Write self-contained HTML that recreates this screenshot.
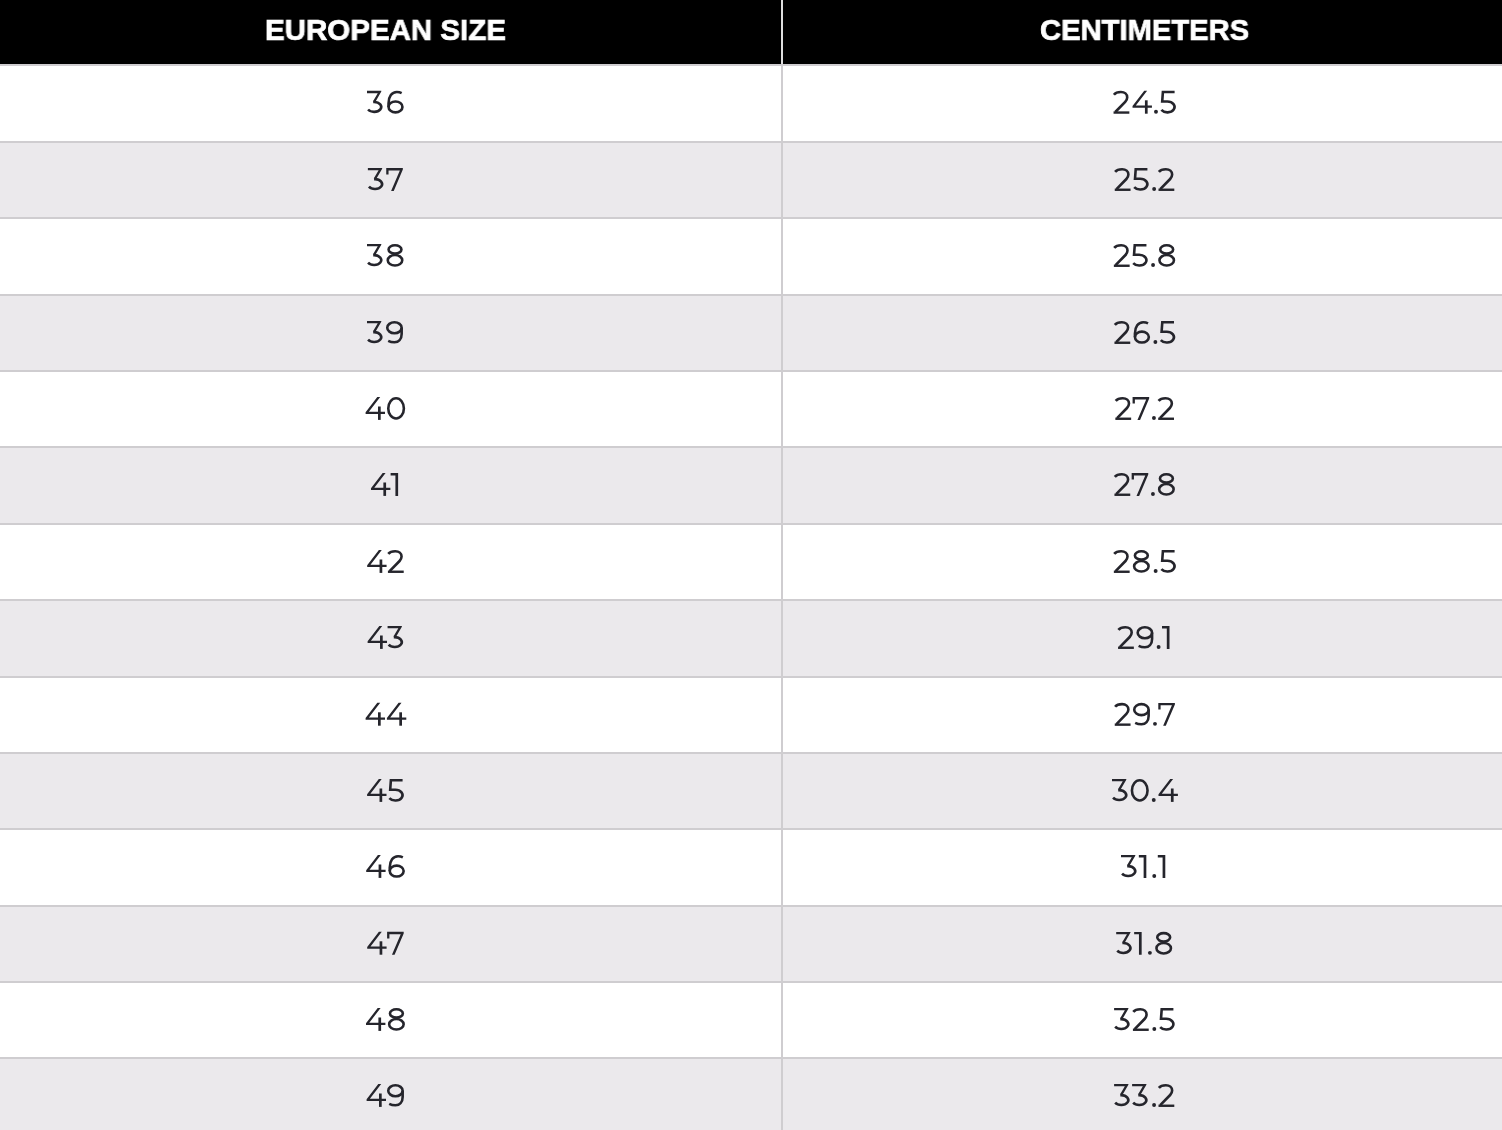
<!DOCTYPE html>
<html><head><meta charset="utf-8"><style>
html,body{margin:0;padding:0;width:1502px;height:1130px;overflow:hidden;background:#fff}
.a{position:absolute}
.h{position:absolute;font-family:"Liberation Sans",sans-serif;white-space:nowrap;line-height:40px;height:40px;color:#fff;font-weight:700;font-size:30px;transform-origin:0 0;-webkit-text-stroke:0.7px #fff;will-change:transform}
svg{position:absolute;left:0;top:0}
.t{position:absolute;width:120px;height:40px;line-height:40px;text-align:center;font-family:"Liberation Sans",sans-serif;font-size:33px;color:transparent}
</style></head><body>
<div class="a" style="left:0;top:0;width:1502px;height:64px;background:#000"></div>
<div class="a" style="left:0;top:66px;width:1502px;height:75px;background:#fff"></div>
<div class="a" style="left:0;top:143px;width:1502px;height:74px;background:#ebe9ec"></div>
<div class="a" style="left:0;top:219px;width:1502px;height:75px;background:#fff"></div>
<div class="a" style="left:0;top:296px;width:1502px;height:74px;background:#ebe9ec"></div>
<div class="a" style="left:0;top:372px;width:1502px;height:74px;background:#fff"></div>
<div class="a" style="left:0;top:448px;width:1502px;height:75px;background:#ebe9ec"></div>
<div class="a" style="left:0;top:525px;width:1502px;height:74px;background:#fff"></div>
<div class="a" style="left:0;top:601px;width:1502px;height:75px;background:#ebe9ec"></div>
<div class="a" style="left:0;top:678px;width:1502px;height:74px;background:#fff"></div>
<div class="a" style="left:0;top:754px;width:1502px;height:74px;background:#ebe9ec"></div>
<div class="a" style="left:0;top:830px;width:1502px;height:75px;background:#fff"></div>
<div class="a" style="left:0;top:907px;width:1502px;height:74px;background:#ebe9ec"></div>
<div class="a" style="left:0;top:983px;width:1502px;height:74px;background:#fff"></div>
<div class="a" style="left:0;top:1059px;width:1502px;height:71px;background:#ebe9ec"></div>
<div class="a" style="left:0;top:64px;width:1502px;height:2px;background:#cfcdd0"></div>
<div class="a" style="left:0;top:141px;width:1502px;height:2px;background:#cfcdd0"></div>
<div class="a" style="left:0;top:217px;width:1502px;height:2px;background:#cfcdd0"></div>
<div class="a" style="left:0;top:294px;width:1502px;height:2px;background:#cfcdd0"></div>
<div class="a" style="left:0;top:370px;width:1502px;height:2px;background:#cfcdd0"></div>
<div class="a" style="left:0;top:446px;width:1502px;height:2px;background:#cfcdd0"></div>
<div class="a" style="left:0;top:523px;width:1502px;height:2px;background:#cfcdd0"></div>
<div class="a" style="left:0;top:599px;width:1502px;height:2px;background:#cfcdd0"></div>
<div class="a" style="left:0;top:676px;width:1502px;height:2px;background:#cfcdd0"></div>
<div class="a" style="left:0;top:752px;width:1502px;height:2px;background:#cfcdd0"></div>
<div class="a" style="left:0;top:828px;width:1502px;height:2px;background:#cfcdd0"></div>
<div class="a" style="left:0;top:905px;width:1502px;height:2px;background:#cfcdd0"></div>
<div class="a" style="left:0;top:981px;width:1502px;height:2px;background:#cfcdd0"></div>
<div class="a" style="left:0;top:1057px;width:1502px;height:2px;background:#cfcdd0"></div>
<div class="a" style="left:781px;top:0;width:2px;height:1130px;background:#cfcdd0"></div>
<div class="a" style="left:781px;top:0;width:2px;height:64px;background:#dedede"></div>
<div class="h" style="left:264.93px;top:9.70px;transform:scaleX(0.9835)">EUROPEAN SIZE</div>
<div class="h" style="left:1040.03px;top:9.70px;transform:scaleX(0.9728)">CENTIMETERS</div>
<svg width="1502" height="1130" viewBox="0 0 1502 1130">
<g transform="translate(367.00 90.80)"><path d="M0 0H14.3V0.7L8.6 10.6H5.9L10.75 2.35H0Z" fill="#25252c"/><path d="M6.2 11.15H7.15A7.1 4.95 0 1 1 1.08 18.7" fill="none" stroke="#25252c" stroke-width="2.6" stroke-linejoin="miter" stroke-miterlimit="4"/></g><g transform="translate(387.25 90.80)"><ellipse cx="8.25" cy="16.1" rx="6.95" ry="5.45" fill="none" stroke="#25252c" stroke-width="2.6" stroke-linejoin="miter" stroke-miterlimit="4"/><path d="M14.4 2.3C13 1.6 11.4 1.25 9.6 1.25C4.6 1.25 1.3 5.6 1.3 12.5V16.1" fill="none" stroke="#25252c" stroke-width="2.6" stroke-linejoin="miter" stroke-miterlimit="4"/></g>
<g transform="translate(367.87 168.00)"><path d="M0 0H14.3V0.7L8.6 10.6H5.9L10.75 2.35H0Z" fill="#25252c"/><path d="M6.2 11.15H7.15A7.1 4.95 0 1 1 1.08 18.7" fill="none" stroke="#25252c" stroke-width="2.6" stroke-linejoin="miter" stroke-miterlimit="4"/></g><g transform="translate(386.24 168.00)"><path d="M0 0H16.6V1.6L7.5 22.9H4.85L13.6 2.4H2.3V6.6H0Z" fill="#25252c"/></g>
<g transform="translate(367.00 244.00)"><path d="M0 0H14.3V0.7L8.6 10.6H5.9L10.75 2.35H0Z" fill="#25252c"/><path d="M6.2 11.15H7.15A7.1 4.95 0 1 1 1.08 18.7" fill="none" stroke="#25252c" stroke-width="2.6" stroke-linejoin="miter" stroke-miterlimit="4"/></g><g transform="translate(386.50 244.00)"><ellipse cx="8.5" cy="5.45" rx="6.45" ry="4.2" fill="none" stroke="#25252c" stroke-width="2.6" stroke-linejoin="miter" stroke-miterlimit="4"/><ellipse cx="8.5" cy="16.3" rx="7.25" ry="5.25" fill="none" stroke="#25252c" stroke-width="2.6" stroke-linejoin="miter" stroke-miterlimit="4"/></g>
<g transform="translate(367.00 321.00)"><path d="M0 0H14.3V0.7L8.6 10.6H5.9L10.75 2.35H0Z" fill="#25252c"/><path d="M6.2 11.15H7.15A7.1 4.95 0 1 1 1.08 18.7" fill="none" stroke="#25252c" stroke-width="2.6" stroke-linejoin="miter" stroke-miterlimit="4"/></g><g transform="translate(386.00 321.00)"><ellipse cx="8.45" cy="6.75" rx="7.2" ry="5.5" fill="none" stroke="#25252c" stroke-width="2.6" stroke-linejoin="miter" stroke-miterlimit="4"/><path d="M15.65 6.75V13C15.65 18.5 12.5 21.3 8.5 21.3C6 21.3 3.8 20.7 2.2 19.9" fill="none" stroke="#25252c" stroke-width="2.6" stroke-linejoin="miter" stroke-miterlimit="4"/></g>
<g transform="translate(365.60 397.00)"><path d="M11.7 0H14.6L3.3 14.7H19.4V16.9H0V15.3Z" fill="#25252c"/><rect x="12.4" y="9.5" width="2.7" height="13.4" fill="#25252c"/></g><g transform="translate(387.05 397.00)"><ellipse cx="9.03" cy="11.4" rx="7.8" ry="10.15" fill="none" stroke="#25252c" stroke-width="2.6" stroke-linejoin="miter" stroke-miterlimit="4"/></g>
<g transform="translate(370.98 473.00)"><path d="M11.7 0H14.6L3.3 14.7H19.4V16.9H0V15.3Z" fill="#25252c"/><rect x="12.4" y="9.5" width="2.7" height="13.4" fill="#25252c"/></g><g transform="translate(390.62 473.00)"><path d="M0 0H7.5V22.9H4.8V2.4H0Z" fill="#25252c"/></g>
<g transform="translate(367.18 550.00)"><path d="M11.7 0H14.6L3.3 14.7H19.4V16.9H0V15.3Z" fill="#25252c"/><rect x="12.4" y="9.5" width="2.7" height="13.4" fill="#25252c"/></g><g transform="translate(387.27 550.00)"><path d="M1.0 3.9C2.4 2.1 4.9 1.25 8.0 1.25C11.8 1.25 14.3 3.5 14.3 6.6C14.3 8.3 13.6 9.6 12.3 11L2.4 21.2" fill="none" stroke="#25252c" stroke-width="2.6" stroke-linejoin="miter" stroke-miterlimit="4"/><path d="M0.65 20.55H16.45V22.95H0.65Z" fill="#25252c"/></g>
<g transform="translate(367.62 626.00)"><path d="M11.7 0H14.6L3.3 14.7H19.4V16.9H0V15.3Z" fill="#25252c"/><rect x="12.4" y="9.5" width="2.7" height="13.4" fill="#25252c"/></g><g transform="translate(387.58 626.00)"><path d="M0 0H14.3V0.7L8.6 10.6H5.9L10.75 2.35H0Z" fill="#25252c"/><path d="M6.2 11.15H7.15A7.1 4.95 0 1 1 1.08 18.7" fill="none" stroke="#25252c" stroke-width="2.6" stroke-linejoin="miter" stroke-miterlimit="4"/></g>
<g transform="translate(365.60 702.80)"><path d="M11.7 0H14.6L3.3 14.7H19.4V16.9H0V15.3Z" fill="#25252c"/><rect x="12.4" y="9.5" width="2.7" height="13.4" fill="#25252c"/></g><g transform="translate(386.90 702.80)"><path d="M11.7 0H14.6L3.3 14.7H19.4V16.9H0V15.3Z" fill="#25252c"/><rect x="12.4" y="9.5" width="2.7" height="13.4" fill="#25252c"/></g>
<g transform="translate(367.11 779.00)"><path d="M11.7 0H14.6L3.3 14.7H19.4V16.9H0V15.3Z" fill="#25252c"/><rect x="12.4" y="9.5" width="2.7" height="13.4" fill="#25252c"/></g><g transform="translate(388.19 779.00)"><path d="M14.4 1.2H2.7L2.0 10.75H7.15A7.2 5.4 0 1 1 1.18 19.17" fill="none" stroke="#25252c" stroke-width="2.6" stroke-linejoin="miter" stroke-miterlimit="4"/></g>
<g transform="translate(366.20 855.00)"><path d="M11.7 0H14.6L3.3 14.7H19.4V16.9H0V15.3Z" fill="#25252c"/><rect x="12.4" y="9.5" width="2.7" height="13.4" fill="#25252c"/></g><g transform="translate(388.45 855.00)"><ellipse cx="8.25" cy="16.1" rx="6.95" ry="5.45" fill="none" stroke="#25252c" stroke-width="2.6" stroke-linejoin="miter" stroke-miterlimit="4"/><path d="M14.4 2.3C13 1.6 11.4 1.25 9.6 1.25C4.6 1.25 1.3 5.6 1.3 12.5V16.1" fill="none" stroke="#25252c" stroke-width="2.6" stroke-linejoin="miter" stroke-miterlimit="4"/></g>
<g transform="translate(367.20 931.80)"><path d="M11.7 0H14.6L3.3 14.7H19.4V16.9H0V15.3Z" fill="#25252c"/><rect x="12.4" y="9.5" width="2.7" height="13.4" fill="#25252c"/></g><g transform="translate(387.10 931.80)"><path d="M0 0H16.6V1.6L7.5 22.9H4.85L13.6 2.4H2.3V6.6H0Z" fill="#25252c"/></g>
<g transform="translate(366.00 1008.00)"><path d="M11.7 0H14.6L3.3 14.7H19.4V16.9H0V15.3Z" fill="#25252c"/><rect x="12.4" y="9.5" width="2.7" height="13.4" fill="#25252c"/></g><g transform="translate(387.90 1008.00)"><ellipse cx="8.5" cy="5.45" rx="6.45" ry="4.2" fill="none" stroke="#25252c" stroke-width="2.6" stroke-linejoin="miter" stroke-miterlimit="4"/><ellipse cx="8.5" cy="16.3" rx="7.25" ry="5.25" fill="none" stroke="#25252c" stroke-width="2.6" stroke-linejoin="miter" stroke-miterlimit="4"/></g>
<g transform="translate(366.60 1084.00)"><path d="M11.7 0H14.6L3.3 14.7H19.4V16.9H0V15.3Z" fill="#25252c"/><rect x="12.4" y="9.5" width="2.7" height="13.4" fill="#25252c"/></g><g transform="translate(387.00 1084.00)"><ellipse cx="8.45" cy="6.75" rx="7.2" ry="5.5" fill="none" stroke="#25252c" stroke-width="2.6" stroke-linejoin="miter" stroke-miterlimit="4"/><path d="M15.65 6.75V13C15.65 18.5 12.5 21.3 8.5 21.3C6 21.3 3.8 20.7 2.2 19.9" fill="none" stroke="#25252c" stroke-width="2.6" stroke-linejoin="miter" stroke-miterlimit="4"/></g>
<g transform="translate(1112.90 90.80)"><path d="M1.0 3.9C2.4 2.1 4.9 1.25 8.0 1.25C11.8 1.25 14.3 3.5 14.3 6.6C14.3 8.3 13.6 9.6 12.3 11L2.4 21.2" fill="none" stroke="#25252c" stroke-width="2.6" stroke-linejoin="miter" stroke-miterlimit="4"/><path d="M0.65 20.55H16.45V22.95H0.65Z" fill="#25252c"/></g><g transform="translate(1132.53 90.80)"><path d="M11.7 0H14.6L3.3 14.7H19.4V16.9H0V15.3Z" fill="#25252c"/><rect x="12.4" y="9.5" width="2.7" height="13.4" fill="#25252c"/></g><g transform="translate(1154.04 90.80)"><circle cx="1.95" cy="20.95" r="1.95" fill="#25252c"/></g><g transform="translate(1160.20 90.80)"><path d="M14.4 1.2H2.7L2.0 10.75H7.15A7.2 5.4 0 1 1 1.18 19.17" fill="none" stroke="#25252c" stroke-width="2.6" stroke-linejoin="miter" stroke-miterlimit="4"/></g>
<g transform="translate(1114.10 168.00)"><path d="M1.0 3.9C2.4 2.1 4.9 1.25 8.0 1.25C11.8 1.25 14.3 3.5 14.3 6.6C14.3 8.3 13.6 9.6 12.3 11L2.4 21.2" fill="none" stroke="#25252c" stroke-width="2.6" stroke-linejoin="miter" stroke-miterlimit="4"/><path d="M0.65 20.55H16.45V22.95H0.65Z" fill="#25252c"/></g><g transform="translate(1133.01 168.00)"><path d="M14.4 1.2H2.7L2.0 10.75H7.15A7.2 5.4 0 1 1 1.18 19.17" fill="none" stroke="#25252c" stroke-width="2.6" stroke-linejoin="miter" stroke-miterlimit="4"/></g><g transform="translate(1152.19 168.00)"><circle cx="1.95" cy="20.95" r="1.95" fill="#25252c"/></g><g transform="translate(1157.85 168.00)"><path d="M1.0 3.9C2.4 2.1 4.9 1.25 8.0 1.25C11.8 1.25 14.3 3.5 14.3 6.6C14.3 8.3 13.6 9.6 12.3 11L2.4 21.2" fill="none" stroke="#25252c" stroke-width="2.6" stroke-linejoin="miter" stroke-miterlimit="4"/><path d="M0.65 20.55H16.45V22.95H0.65Z" fill="#25252c"/></g>
<g transform="translate(1113.20 244.00)"><path d="M1.0 3.9C2.4 2.1 4.9 1.25 8.0 1.25C11.8 1.25 14.3 3.5 14.3 6.6C14.3 8.3 13.6 9.6 12.3 11L2.4 21.2" fill="none" stroke="#25252c" stroke-width="2.6" stroke-linejoin="miter" stroke-miterlimit="4"/><path d="M0.65 20.55H16.45V22.95H0.65Z" fill="#25252c"/></g><g transform="translate(1132.04 244.00)"><path d="M14.4 1.2H2.7L2.0 10.75H7.15A7.2 5.4 0 1 1 1.18 19.17" fill="none" stroke="#25252c" stroke-width="2.6" stroke-linejoin="miter" stroke-miterlimit="4"/></g><g transform="translate(1151.11 244.00)"><circle cx="1.95" cy="20.95" r="1.95" fill="#25252c"/></g><g transform="translate(1158.20 244.00)"><ellipse cx="8.5" cy="5.45" rx="6.45" ry="4.2" fill="none" stroke="#25252c" stroke-width="2.6" stroke-linejoin="miter" stroke-miterlimit="4"/><ellipse cx="8.5" cy="16.3" rx="7.25" ry="5.25" fill="none" stroke="#25252c" stroke-width="2.6" stroke-linejoin="miter" stroke-miterlimit="4"/></g>
<g transform="translate(1113.80 321.00)"><path d="M1.0 3.9C2.4 2.1 4.9 1.25 8.0 1.25C11.8 1.25 14.3 3.5 14.3 6.6C14.3 8.3 13.6 9.6 12.3 11L2.4 21.2" fill="none" stroke="#25252c" stroke-width="2.6" stroke-linejoin="miter" stroke-miterlimit="4"/><path d="M0.65 20.55H16.45V22.95H0.65Z" fill="#25252c"/></g><g transform="translate(1133.64 321.00)"><ellipse cx="8.25" cy="16.1" rx="6.95" ry="5.45" fill="none" stroke="#25252c" stroke-width="2.6" stroke-linejoin="miter" stroke-miterlimit="4"/><path d="M14.4 2.3C13 1.6 11.4 1.25 9.6 1.25C4.6 1.25 1.3 5.6 1.3 12.5V16.1" fill="none" stroke="#25252c" stroke-width="2.6" stroke-linejoin="miter" stroke-miterlimit="4"/></g><g transform="translate(1153.44 321.00)"><circle cx="1.95" cy="20.95" r="1.95" fill="#25252c"/></g><g transform="translate(1159.60 321.00)"><path d="M14.4 1.2H2.7L2.0 10.75H7.15A7.2 5.4 0 1 1 1.18 19.17" fill="none" stroke="#25252c" stroke-width="2.6" stroke-linejoin="miter" stroke-miterlimit="4"/></g>
<g transform="translate(1114.70 397.00)"><path d="M1.0 3.9C2.4 2.1 4.9 1.25 8.0 1.25C11.8 1.25 14.3 3.5 14.3 6.6C14.3 8.3 13.6 9.6 12.3 11L2.4 21.2" fill="none" stroke="#25252c" stroke-width="2.6" stroke-linejoin="miter" stroke-miterlimit="4"/><path d="M0.65 20.55H16.45V22.95H0.65Z" fill="#25252c"/></g><g transform="translate(1132.58 397.00)"><path d="M0 0H16.6V1.6L7.5 22.9H4.85L13.6 2.4H2.3V6.6H0Z" fill="#25252c"/></g><g transform="translate(1152.00 397.00)"><circle cx="1.95" cy="20.95" r="1.95" fill="#25252c"/></g><g transform="translate(1157.55 397.00)"><path d="M1.0 3.9C2.4 2.1 4.9 1.25 8.0 1.25C11.8 1.25 14.3 3.5 14.3 6.6C14.3 8.3 13.6 9.6 12.3 11L2.4 21.2" fill="none" stroke="#25252c" stroke-width="2.6" stroke-linejoin="miter" stroke-miterlimit="4"/><path d="M0.65 20.55H16.45V22.95H0.65Z" fill="#25252c"/></g>
<g transform="translate(1113.80 473.00)"><path d="M1.0 3.9C2.4 2.1 4.9 1.25 8.0 1.25C11.8 1.25 14.3 3.5 14.3 6.6C14.3 8.3 13.6 9.6 12.3 11L2.4 21.2" fill="none" stroke="#25252c" stroke-width="2.6" stroke-linejoin="miter" stroke-miterlimit="4"/><path d="M0.65 20.55H16.45V22.95H0.65Z" fill="#25252c"/></g><g transform="translate(1131.65 473.00)"><path d="M0 0H16.6V1.6L7.5 22.9H4.85L13.6 2.4H2.3V6.6H0Z" fill="#25252c"/></g><g transform="translate(1150.99 473.00)"><circle cx="1.95" cy="20.95" r="1.95" fill="#25252c"/></g><g transform="translate(1157.90 473.00)"><ellipse cx="8.5" cy="5.45" rx="6.45" ry="4.2" fill="none" stroke="#25252c" stroke-width="2.6" stroke-linejoin="miter" stroke-miterlimit="4"/><ellipse cx="8.5" cy="16.3" rx="7.25" ry="5.25" fill="none" stroke="#25252c" stroke-width="2.6" stroke-linejoin="miter" stroke-miterlimit="4"/></g>
<g transform="translate(1113.20 550.00)"><path d="M1.0 3.9C2.4 2.1 4.9 1.25 8.0 1.25C11.8 1.25 14.3 3.5 14.3 6.6C14.3 8.3 13.6 9.6 12.3 11L2.4 21.2" fill="none" stroke="#25252c" stroke-width="2.6" stroke-linejoin="miter" stroke-miterlimit="4"/><path d="M0.65 20.55H16.45V22.95H0.65Z" fill="#25252c"/></g><g transform="translate(1132.85 550.00)"><ellipse cx="8.5" cy="5.45" rx="6.45" ry="4.2" fill="none" stroke="#25252c" stroke-width="2.6" stroke-linejoin="miter" stroke-miterlimit="4"/><ellipse cx="8.5" cy="16.3" rx="7.25" ry="5.25" fill="none" stroke="#25252c" stroke-width="2.6" stroke-linejoin="miter" stroke-miterlimit="4"/></g><g transform="translate(1153.70 550.00)"><circle cx="1.95" cy="20.95" r="1.95" fill="#25252c"/></g><g transform="translate(1160.20 550.00)"><path d="M14.4 1.2H2.7L2.0 10.75H7.15A7.2 5.4 0 1 1 1.18 19.17" fill="none" stroke="#25252c" stroke-width="2.6" stroke-linejoin="miter" stroke-miterlimit="4"/></g>
<g transform="translate(1117.40 626.00)"><path d="M1.0 3.9C2.4 2.1 4.9 1.25 8.0 1.25C11.8 1.25 14.3 3.5 14.3 6.6C14.3 8.3 13.6 9.6 12.3 11L2.4 21.2" fill="none" stroke="#25252c" stroke-width="2.6" stroke-linejoin="miter" stroke-miterlimit="4"/><path d="M0.65 20.55H16.45V22.95H0.65Z" fill="#25252c"/></g><g transform="translate(1136.42 626.00)"><ellipse cx="8.45" cy="6.75" rx="7.2" ry="5.5" fill="none" stroke="#25252c" stroke-width="2.6" stroke-linejoin="miter" stroke-miterlimit="4"/><path d="M15.65 6.75V13C15.65 18.5 12.5 21.3 8.5 21.3C6 21.3 3.8 20.7 2.2 19.9" fill="none" stroke="#25252c" stroke-width="2.6" stroke-linejoin="miter" stroke-miterlimit="4"/></g><g transform="translate(1156.66 626.00)"><circle cx="1.95" cy="20.95" r="1.95" fill="#25252c"/></g><g transform="translate(1162.00 626.00)"><path d="M0 0H7.5V22.9H4.8V2.4H0Z" fill="#25252c"/></g>
<g transform="translate(1114.10 702.90)"><path d="M1.0 3.9C2.4 2.1 4.9 1.25 8.0 1.25C11.8 1.25 14.3 3.5 14.3 6.6C14.3 8.3 13.6 9.6 12.3 11L2.4 21.2" fill="none" stroke="#25252c" stroke-width="2.6" stroke-linejoin="miter" stroke-miterlimit="4"/><path d="M0.65 20.55H16.45V22.95H0.65Z" fill="#25252c"/></g><g transform="translate(1132.98 702.90)"><ellipse cx="8.45" cy="6.75" rx="7.2" ry="5.5" fill="none" stroke="#25252c" stroke-width="2.6" stroke-linejoin="miter" stroke-miterlimit="4"/><path d="M15.65 6.75V13C15.65 18.5 12.5 21.3 8.5 21.3C6 21.3 3.8 20.7 2.2 19.9" fill="none" stroke="#25252c" stroke-width="2.6" stroke-linejoin="miter" stroke-miterlimit="4"/></g><g transform="translate(1153.04 702.90)"><circle cx="1.95" cy="20.95" r="1.95" fill="#25252c"/></g><g transform="translate(1158.30 702.90)"><path d="M0 0H16.6V1.6L7.5 22.9H4.85L13.6 2.4H2.3V6.6H0Z" fill="#25252c"/></g>
<g transform="translate(1112.00 779.00)"><path d="M0 0H14.3V0.7L8.6 10.6H5.9L10.75 2.35H0Z" fill="#25252c"/><path d="M6.2 11.15H7.15A7.1 4.95 0 1 1 1.08 18.7" fill="none" stroke="#25252c" stroke-width="2.6" stroke-linejoin="miter" stroke-miterlimit="4"/></g><g transform="translate(1130.71 779.00)"><ellipse cx="9.03" cy="11.4" rx="7.8" ry="10.15" fill="none" stroke="#25252c" stroke-width="2.6" stroke-linejoin="miter" stroke-miterlimit="4"/></g><g transform="translate(1151.79 779.00)"><circle cx="1.95" cy="20.95" r="1.95" fill="#25252c"/></g><g transform="translate(1158.50 779.00)"><path d="M11.7 0H14.6L3.3 14.7H19.4V16.9H0V15.3Z" fill="#25252c"/><rect x="12.4" y="9.5" width="2.7" height="13.4" fill="#25252c"/></g>
<g transform="translate(1121.00 855.00)"><path d="M0 0H14.3V0.7L8.6 10.6H5.9L10.75 2.35H0Z" fill="#25252c"/><path d="M6.2 11.15H7.15A7.1 4.95 0 1 1 1.08 18.7" fill="none" stroke="#25252c" stroke-width="2.6" stroke-linejoin="miter" stroke-miterlimit="4"/></g><g transform="translate(1138.83 855.00)"><path d="M0 0H7.5V22.9H4.8V2.4H0Z" fill="#25252c"/></g><g transform="translate(1152.31 855.00)"><circle cx="1.95" cy="20.95" r="1.95" fill="#25252c"/></g><g transform="translate(1157.80 855.00)"><path d="M0 0H7.5V22.9H4.8V2.4H0Z" fill="#25252c"/></g>
<g transform="translate(1116.20 931.90)"><path d="M0 0H14.3V0.7L8.6 10.6H5.9L10.75 2.35H0Z" fill="#25252c"/><path d="M6.2 11.15H7.15A7.1 4.95 0 1 1 1.08 18.7" fill="none" stroke="#25252c" stroke-width="2.6" stroke-linejoin="miter" stroke-miterlimit="4"/></g><g transform="translate(1134.16 931.90)"><path d="M0 0H7.5V22.9H4.8V2.4H0Z" fill="#25252c"/></g><g transform="translate(1147.95 931.90)"><circle cx="1.95" cy="20.95" r="1.95" fill="#25252c"/></g><g transform="translate(1155.20 931.90)"><ellipse cx="8.5" cy="5.45" rx="6.45" ry="4.2" fill="none" stroke="#25252c" stroke-width="2.6" stroke-linejoin="miter" stroke-miterlimit="4"/><ellipse cx="8.5" cy="16.3" rx="7.25" ry="5.25" fill="none" stroke="#25252c" stroke-width="2.6" stroke-linejoin="miter" stroke-miterlimit="4"/></g>
<g transform="translate(1114.10 1008.00)"><path d="M0 0H14.3V0.7L8.6 10.6H5.9L10.75 2.35H0Z" fill="#25252c"/><path d="M6.2 11.15H7.15A7.1 4.95 0 1 1 1.08 18.7" fill="none" stroke="#25252c" stroke-width="2.6" stroke-linejoin="miter" stroke-miterlimit="4"/></g><g transform="translate(1132.27 1008.00)"><path d="M1.0 3.9C2.4 2.1 4.9 1.25 8.0 1.25C11.8 1.25 14.3 3.5 14.3 6.6C14.3 8.3 13.6 9.6 12.3 11L2.4 21.2" fill="none" stroke="#25252c" stroke-width="2.6" stroke-linejoin="miter" stroke-miterlimit="4"/><path d="M0.65 20.55H16.45V22.95H0.65Z" fill="#25252c"/></g><g transform="translate(1152.37 1008.00)"><circle cx="1.95" cy="20.95" r="1.95" fill="#25252c"/></g><g transform="translate(1159.00 1008.00)"><path d="M14.4 1.2H2.7L2.0 10.75H7.15A7.2 5.4 0 1 1 1.18 19.17" fill="none" stroke="#25252c" stroke-width="2.6" stroke-linejoin="miter" stroke-miterlimit="4"/></g>
<g transform="translate(1114.10 1084.00)"><path d="M0 0H14.3V0.7L8.6 10.6H5.9L10.75 2.35H0Z" fill="#25252c"/><path d="M6.2 11.15H7.15A7.1 4.95 0 1 1 1.08 18.7" fill="none" stroke="#25252c" stroke-width="2.6" stroke-linejoin="miter" stroke-miterlimit="4"/></g><g transform="translate(1132.10 1084.00)"><path d="M0 0H14.3V0.7L8.6 10.6H5.9L10.75 2.35H0Z" fill="#25252c"/><path d="M6.2 11.15H7.15A7.1 4.95 0 1 1 1.08 18.7" fill="none" stroke="#25252c" stroke-width="2.6" stroke-linejoin="miter" stroke-miterlimit="4"/></g><g transform="translate(1152.12 1084.00)"><circle cx="1.95" cy="20.95" r="1.95" fill="#25252c"/></g><g transform="translate(1157.85 1084.00)"><path d="M1.0 3.9C2.4 2.1 4.9 1.25 8.0 1.25C11.8 1.25 14.3 3.5 14.3 6.6C14.3 8.3 13.6 9.6 12.3 11L2.4 21.2" fill="none" stroke="#25252c" stroke-width="2.6" stroke-linejoin="miter" stroke-miterlimit="4"/><path d="M0.65 20.55H16.45V22.95H0.65Z" fill="#25252c"/></g>
</svg>
<div class="t" style="left:325.4px;top:82.8px">36</div>
<div class="t" style="left:325.4px;top:160.0px">37</div>
<div class="t" style="left:325.2px;top:236.0px">38</div>
<div class="t" style="left:324.9px;top:313.0px">39</div>
<div class="t" style="left:325.4px;top:389.0px">40</div>
<div class="t" style="left:324.6px;top:465.0px">41</div>
<div class="t" style="left:325.4px;top:542.0px">42</div>
<div class="t" style="left:325.4px;top:618.0px">43</div>
<div class="t" style="left:326.0px;top:694.8px">44</div>
<div class="t" style="left:325.4px;top:771.0px">45</div>
<div class="t" style="left:325.5px;top:847.0px">46</div>
<div class="t" style="left:325.4px;top:923.8px">47</div>
<div class="t" style="left:325.4px;top:1000.0px">48</div>
<div class="t" style="left:325.2px;top:1076.0px">49</div>
<div class="t" style="left:1084.3px;top:82.8px">24.5</div>
<div class="t" style="left:1084.2px;top:160.0px">25.2</div>
<div class="t" style="left:1084.2px;top:236.0px">25.8</div>
<div class="t" style="left:1084.5px;top:313.0px">26.5</div>
<div class="t" style="left:1084.3px;top:389.0px">27.2</div>
<div class="t" style="left:1084.3px;top:465.0px">27.8</div>
<div class="t" style="left:1084.5px;top:542.0px">28.5</div>
<div class="t" style="left:1083.5px;top:618.0px">29.1</div>
<div class="t" style="left:1084.5px;top:694.9px">29.7</div>
<div class="t" style="left:1085.0px;top:771.0px">30.4</div>
<div class="t" style="left:1083.2px;top:847.0px">31.1</div>
<div class="t" style="left:1084.2px;top:923.9px">31.8</div>
<div class="t" style="left:1084.3px;top:1000.0px">32.5</div>
<div class="t" style="left:1084.2px;top:1076.0px">33.2</div>
</body></html>
